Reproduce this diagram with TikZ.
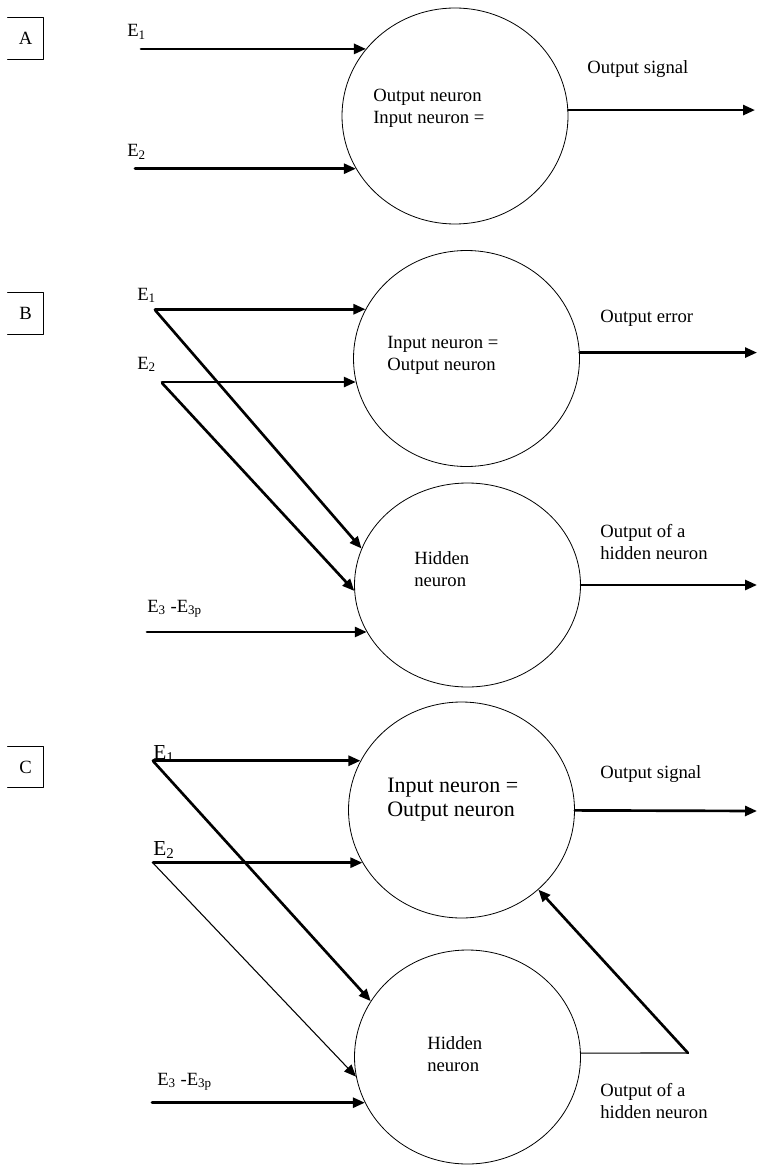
\documentclass[tikz,border=0pt]{standalone}
\usepackage{fontspec}
\setmainfont{Liberation Serif}
\usetikzlibrary{arrows.meta,shapes.geometric}

\begin{document}
\begin{tikzpicture}[x=0.75pt,y=-0.75pt,line cap=round,line join=round,
        neuron/.style={draw,ellipse,line width=0.6pt,minimum width=169.5pt,minimum height=162pt,inner sep=0},
        sig/.style={line width=2pt,-{Triangle[length=9pt,width=7.5pt]}},
        thinsig/.style={line width=0.8pt,-{Triangle[length=9pt,width=7.5pt]}},
        txt/.style={inner sep=0,anchor=base west,align=left,font=\fontsize{14}{16.5}\selectfont},
        bigtxt/.style={txt,font=\fontsize{16.5}{17.5}\selectfont},
        tag/.style={inner sep=0,minimum width=26.25pt,minimum height=30.75pt,font=\fontsize{14}{16}\selectfont}]
    \useasboundingbox (0,0) rectangle (759,1166);

    % A: one neuron, input = output
    \node[tag] (tagA) at (25.5,38.5) {A};
    \draw[line width=0.75pt] (tagA.north west) -- (tagA.north east) -- (tagA.south east) -- (tagA.south west);
    \node[neuron] (outA) at (455,116) {};
    \node[txt] (txtA) at (373,124) {Output neuron\\Input neuron =};
    \node[txt] (eA1) at (127,37) {E\textsubscript{1}};
    \node[txt] (eA2) at (127,157) {E\textsubscript{2}};
    \node[txt] (sigA) at (587,74) {Output signal};
    \coordinate (sA1) at (141,50);
    \coordinate (sA2) at (135,170);
    \coordinate (oA) at (755,109);
    \draw[sig] (sA1 |- outA.143.6) -- (outA.143.6);
    \draw[sig] (sA2 |- outA.208.9) -- (outA.208.9);
    \draw[sig] (outA.3.8) -- (outA.3.8 -| oA);

    % B: output neuron + hidden neuron
    \node[tag] (tagB) at (25.5,313.5) {B};
    \draw[line width=0.75pt] (tagB.north west) -- (tagB.north east) -- (tagB.south east) -- (tagB.south west);
    \node[neuron] (inB) at (466.5,358.5) {};
    \node[neuron,minimum height=153pt] (hidB) at (467.5,585) {};
    \node[txt] (txtB) at (387,370) {Input neuron =\\Output neuron};
    \node[txt] (txtHB) at (414,586) {Hidden\\neuron};
    \node[txt] (eB1) at (137,300) {E\textsubscript{1}};
    \node[txt] (eB2) at (137,369) {E\textsubscript{2}};
    \node[txt] (eB3) at (147,612) {E\textsubscript{3} -E\textsubscript{3p}};
    \node[txt] (errB) at (600,322) {Output error};
    \node[txt] (hoB) at (600,559) {Output of a\\hidden neuron};
    \coordinate (sB1) at (155,310);
    \coordinate (sB2) at (162,383);
    \coordinate (sB3) at (147,632);
    \coordinate (oB1) at (757,352);
    \coordinate (oB2) at (757,585);
    \draw[sig] (sB1 |- inB.154.5) -- (inB.154.5);
    \draw[sig] (sB2 |- inB.192.5) -- (inB.192.5);
    \draw[sig] (sB1) -- (hidB.161.6);
    \draw[sig] (sB2) -- (hidB.183.5);
    \draw[sig] (sB3 |- hidB.205.2) -- (hidB.205.2);
    \draw[sig] (inB.3.3) -- (inB.3.3 -| oB1);
    \draw[sig] (hidB) -- (oB2);

    % C: hidden neuron feeds back
    \node[tag] (tagC) at (25.5,767) {C};
    \draw[line width=0.75pt] (tagC.north west) -- (tagC.north east) -- (tagC.south east) -- (tagC.south west);
    \node[neuron] (inC) at (461.5,810) {};
    \node[neuron,minimum height=160.5pt] (hidC) at (467.5,1057) {};
    \node[bigtxt] (txtC) at (387,816) {Input neuron =\\Output neuron};
    \node[txt] (txtHC) at (427,1071) {Hidden\\neuron};
    \node[txt,font=\fontsize{16}{18}\selectfont] (eC1) at (153,759) {E\textsubscript{1}};
    \node[txt,font=\fontsize{16}{18}\selectfont] (eC2) at (153,855) {E\textsubscript{2}};
    \node[txt] (eC3) at (157,1085) {E\textsubscript{3} -E\textsubscript{3p}};
    \node[txt] (sigC) at (600,778) {Output signal};
    \node[txt] (hoC) at (600,1118) {Output of a\\hidden neuron};
    \coordinate (sC1) at (153,761);
    \coordinate (sC2) at (153,863);
    \coordinate (sC3) at (152,1103);
    \coordinate (oC) at (757,811);
    \coordinate (fbC) at (688,1053);
    \draw[sig] (sC1 |- inC.154.1) -- (inC.154.1);
    \draw[sig] (sC2 |- inC.208.2) -- (inC.208.2);
    \draw[sig] (sC1) -- (hidC.150.6);
    \draw[thinsig] (sC2) -- (hidC.190.1);
    \draw[sig] (sC3 |- hidC.204.4) -- (hidC.204.4);
    \draw[sig] (inC) -- (oC);
    \draw[line width=0.8pt] (hidC.2) -- (fbC);
    \draw[sig] (fbC) -- (inC.314.5);
\end{tikzpicture}
\end{document}
